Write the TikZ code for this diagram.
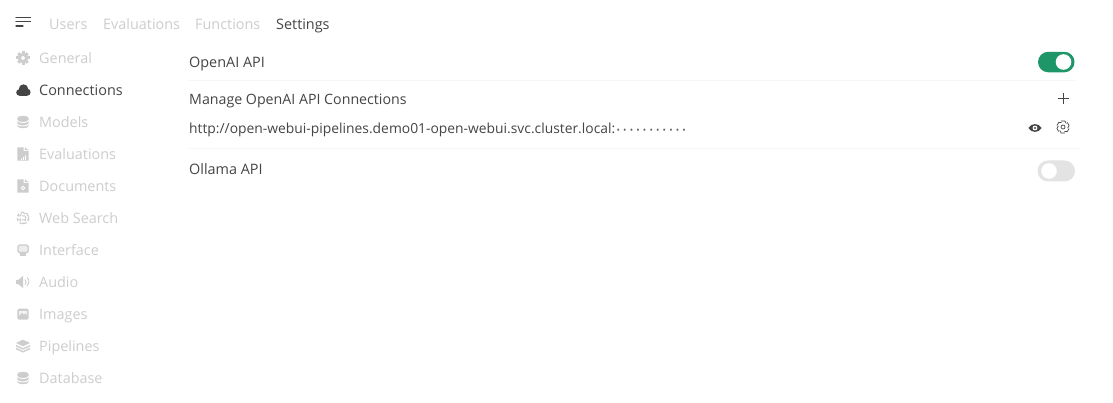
\documentclass[tikz,border=0pt]{standalone}
\usepackage{fontspec}
\setmainfont{Open Sans}
\usetikzlibrary{positioning}
\definecolor{muted}{HTML}{CDCDCD}
\definecolor{ink}{HTML}{454545}
\definecolor{rulegray}{HTML}{F5F5F5}
\definecolor{togglegreen}{HTML}{1F9668}
\definecolor{toggleoff}{HTML}{E3E3E3}
\tikzstyle{label} = [inner sep=0pt, anchor=base west, text=ink, font=\fontsize{14.4}{16}\selectfont]
\tikzstyle{tab} = [label, text=muted]
\tikzstyle{side} = [label, text=muted]
\tikzstyle{sep} = [draw=rulegray, line width=1pt]
\tikzstyle{icon} = [fill=muted, draw=none]
\tikzstyle{knob} = [fill=white, draw=none]
\newcommand{\pwdot}{•\kern3.2pt}
\begin{document}
\begin{tikzpicture}[x=1pt, y=-1pt]
\useasboundingbox (0,0) rectangle (1113,403);
\fill[white] (0,0) rectangle (1113,403);
% top bar
\draw[ink, line width=1.3pt, line cap=round] (16,17.5) -- (30.5,17.5) (16,21.8) -- (30.5,21.8) (16,26) -- (23,26);
\node[tab] (users) at (49,30) {Users};
\node[tab] (evaluationstab) at (103,30) {Evaluations};
\node[tab] (functions) at (195,30) {Functions};
\node[label] (settings) at (276,30) {Settings};
% side menu
\node[side] (general) at (39,64) {General};
\node[label] (connections) at (39,96) {Connections};
\node[side] (models) at (39,128) {Models};
\node[side] (evaluations) at (39,160) {Evaluations};
\node[side] (documents) at (39,192) {Documents};
\node[side] (websearch) at (39,224) {Web Search};
\node[side] (interface) at (39,256) {Interface};
\node[side] (audio) at (39,287.5) {Audio};
\node[side] (images) at (39,319.5) {Images};
\node[side] (pipelines) at (39,351.5) {Pipelines};
\node[side] (database) at (39,383.5) {Database};
% side icons
\foreach \a in {0,45,...,315} \fill[muted, rotate around={\a:(23,58)}] (21.5,51.3) rectangle (24.5,55);
\fill[icon, even odd rule] (23,58) circle (5.2) (23,58) circle (2);
\fill[ink] (19.5,92.5) circle (3.3);
\fill[ink] (23.5,89) circle (4.7);
\fill[ink] (27,92.2) circle (3.6);
\fill[ink] (19.5,91) rectangle (27,95.8);
\foreach \y in {122,378} {
  \fill[icon] (17.3,\y-3.8) arc (180:360:5.7 and 2.4) -- (28.7,\y+3.8) arc (0:180:5.7 and 2.4) -- cycle;
  \draw[white, line width=.9pt] (17.3,\y-1.6) arc (180:0:5.7 and 2.2) (17.3,\y+1.8) arc (180:0:5.7 and 2.2);
}
\foreach \y in {154,186} {
  \fill[icon] (17.3,\y-6.7) -- (23.6,\y-6.7) -- (23.6,\y-2.8) -- (28.7,\y-2.8) -- (28.7,\y+6.7) -- (17.3,\y+6.7) -- cycle;
  \fill[icon] (24.8,\y-6.7) -- (28.7,\y-3.9) -- (24.8,\y-3.9) -- cycle;
}
\fill[white] (21,158.5) rectangle (22,160) (23,157) rectangle (24,160) (25,155.5) rectangle (26,160);
\draw[white, line width=.8pt] (23,188) circle (1.8);
\draw[muted, line width=1pt, densely dashed] (23,218) circle (5.8) (23,218) ellipse (2.6 and 5.8) (17.2,216) -- (28.8,216) (17.2,220) -- (28.8,220);
\draw[muted, fill=muted!35, line width=1.4pt, rounded corners=1.5pt] (18,245) rectangle (28.2,252.6);
\fill[icon] (20,252.6) rectangle (26,255.7);
\fill[icon] (16.2,279.8) -- (18.5,279.8) -- (23,276) -- (23,288) -- (18.5,284.2) -- (16.2,284.2) -- cycle;
\draw[muted, line width=.9pt] (25,279.5) arc (-50:50:3.3) (27,277.5) arc (-50:50:5.6);
\fill[icon, rounded corners=1.5pt] (17.3,308.7) rectangle (28.7,319.7);
\fill[muted!25] (19,316) -- (22,312.5) -- (24,314.5) -- (25.5,313) -- (27,315) -- (27,311) -- (19,311) -- cycle;
\foreach \y in {345,347.8} \fill[icon] (16,\y) -- (23,\y+3.2) -- (30,\y) -- (30,\y+1.5) -- (23,\y+4.7) -- (16,\y+1.5) -- cycle;
\fill[icon] (23,339.7) -- (30,343) -- (23,346.3) -- (16,343) -- cycle;
% content
\node[label] (openai) at (189,68) {OpenAI API};
\node[label, font=\fontsize{14.2}{16}\selectfont] (manage) at (189,105) {Manage OpenAI API Connections};
\node[label, font=\fontsize{13.85}{16}\selectfont] (url) at (189,134) {http://open-webui-pipelines.demo01-open-webui.svc.cluster.local:};
\node[label, text=ink!85, font=\fontsize{9}{10}\selectfont, right=1pt of url.base east, anchor=base west] (secret) {\pwdot\pwdot\pwdot\pwdot\pwdot\pwdot\pwdot\pwdot\pwdot\pwdot•};
\node[label] (ollama) at (189,175) {Ollama API};
\draw[sep] (189,80.5) -- (1075,80.5);
\draw[sep] (189,148.5) -- (1080,148.5);
% toggles
\fill[togglegreen, rounded corners=10.2pt] (1038,51.8) rectangle (1074.5,72.3);
\fill[knob] (1063.5,62) circle (7.8);
\fill[toggleoff, rounded corners=10.5pt] (1037.5,160.5) rectangle (1075,181.5);
\fill[knob] (1049,171) circle (7.8);
% actions
\draw[ink, line width=1pt] (1057.5,99) -- (1068.5,99) (1063,93.5) -- (1063,104.5);
\fill[ink] (1028.5,128) .. controls (1031,122.8) and (1039,122.8) .. (1041.5,128) .. controls (1039,133.2) and (1031,133.2) .. (1028.5,128) -- cycle;
\fill[white] (1035,128) circle (2.4);
\fill[ink] (1035,128) circle (1.1);
\foreach \a in {0,60,...,300} \draw[ink, line width=.7pt, rotate around={\a:(1063,127)}] (1061.2,121) -- (1064.8,121) -- (1066.3,123.5);
\draw[ink, line width=.7pt] (1063,127) circle (2);
\end{tikzpicture}
\end{document}
